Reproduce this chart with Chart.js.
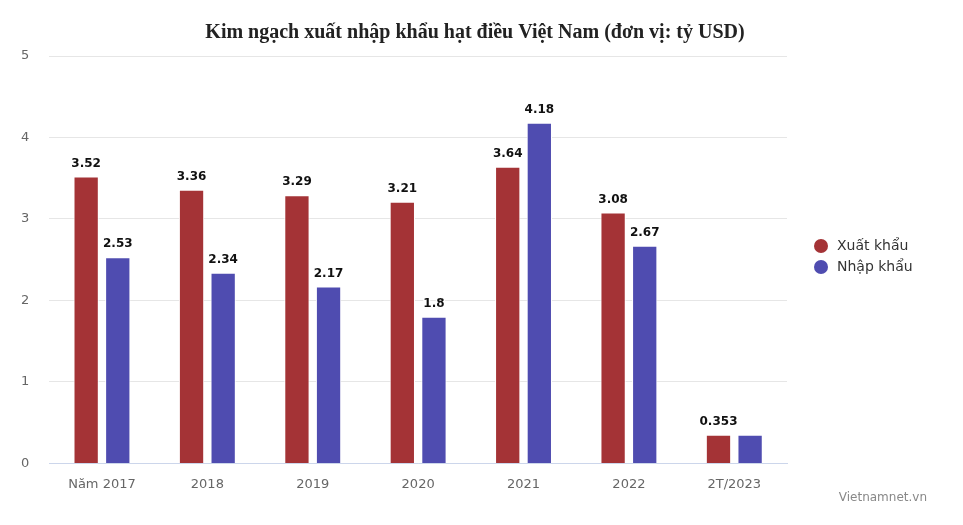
<!DOCTYPE html>
<html>
<head>
<meta charset="utf-8">
<script src="https://cdn.jsdelivr.net/npm/chart.js@4.4.0/dist/chart.umd.min.js"></script>
<style>
html,body{margin:0;padding:0;background:#fff;}
#wrap{width:963px;height:525px;position:relative;}
</style>
</head>
<body>
<div id="wrap"><canvas id="c"></canvas></div>
<script>
const categories = ["Năm 2017", "2018", "2019", "2020", "2021", "2022", "2T/2023"];
const exportValues = [3.52, 3.36, 3.29, 3.21, 3.64, 3.08, 0.353];
const importValues = [2.53, 2.34, 2.17, 1.8, 4.18, 2.67, 0.353];
const seriesNames = ["Xuất khẩu", "Nhập khẩu"];
const seriesColors = ["#a43336", "#4f4cb0"];
const titleText = "Kim ngạch xuất nhập khẩu hạt điều Việt Nam (đơn vị: tỷ USD)";
const sourceText = "Vietnamnet.vn";

const labelPlugin = {
  id: 'valueLabels',
  afterDatasetsDraw(chart) {
    const ctx = chart.ctx;
    ctx.save();
    ctx.font = 'bold 12px "DejaVu Sans"';
    ctx.textAlign = 'center';
    ctx.textBaseline = 'bottom';
    const boxes = [];
    chart.data.datasets.forEach((ds, di) => {
      const meta = chart.getDatasetMeta(di);
      meta.data.forEach((el, i) => {
        const txt = String(ds.data[i]);
        const w = ctx.measureText(txt).width;
        const x = el.x, y = el.y - 7;
        const box = {l: x - w/2 - 2, r: x + w/2 + 2, t: y - 14, b: y};
        if (boxes.some(b => !(box.r < b.l || box.l > b.r || box.b < b.t || box.t > b.b))) return;
        boxes.push(box);
        ctx.lineWidth = 3;
        ctx.strokeStyle = '#fff';
        ctx.lineJoin = 'round';
        ctx.strokeText(txt, x, y);
        ctx.fillStyle = '#111';
        ctx.fillText(txt, x, y);
      });
    });
    ctx.restore();
  }
};

const decorPlugin = {
  id: 'decor',
  afterDraw(chart) {
    const ctx = chart.ctx;
    ctx.save();
    // title
    ctx.font = 'bold 20px "Liberation Serif"';
    ctx.fillStyle = '#222';
    ctx.textAlign = 'center';
    ctx.textBaseline = 'alphabetic';
    ctx.fillText(titleText, 475, 38);
    // legend
    ctx.font = '14px "DejaVu Sans"';
    ctx.textBaseline = 'middle';
    ctx.textAlign = 'left';
    chart.data.datasets.forEach((ds, i) => {
      const y = 246 + i * 21;
      ctx.beginPath();
      ctx.arc(821, y, 7, 0, Math.PI * 2);
      ctx.fillStyle = ds.backgroundColor;
      ctx.fill();
      ctx.fillStyle = '#333';
      ctx.fillText(ds.label, 837, y);
    });
    // source
    ctx.font = '12px "DejaVu Sans"';
    ctx.fillStyle = '#888';
    ctx.textAlign = 'right';
    ctx.fillText(sourceText, 927, 498);
    ctx.restore();
  }
};

new Chart(document.getElementById('c'), {
  type: 'bar',
  data: {
    labels: categories,
    datasets: [
      {label: seriesNames[0], data: exportValues, backgroundColor: seriesColors[0], borderColor: '#fff', borderWidth: 1, borderSkipped: 'bottom'},
      {label: seriesNames[1], data: importValues, backgroundColor: seriesColors[1], borderColor: '#fff', borderWidth: 1, borderSkipped: 'bottom'}
    ]
  },
  options: {
    responsive: true,
    maintainAspectRatio: false,
    animation: false,
    devicePixelRatio: 1,
    layout: {padding: {left: 1, right: 176, top: 56, bottom: 20}},
    datasets: {bar: {categoryPercentage: 0.6, barPercentage: 0.8}},
    plugins: {
      legend: {display: false},
      tooltip: {enabled: false},
      title: {display: false}
    },
    scales: {
      x: {
        grid: {display: false, drawTicks: false},
        border: {color: '#ccd6eb', width: 1},
        ticks: {color: '#666', font: {family: '"DejaVu Sans"', size: 13}, padding: 13}
      },
      y: {
        min: 0, max: 5,
        grid: {color: '#e6e6e6', drawTicks: false},
        border: {display: false},
        ticks: {stepSize: 1, color: '#666', font: {family: '"DejaVu Sans"', size: 13}, padding: 20}
      }
    }
  },
  plugins: [labelPlugin, decorPlugin]
});
</script>
</body>
</html>
